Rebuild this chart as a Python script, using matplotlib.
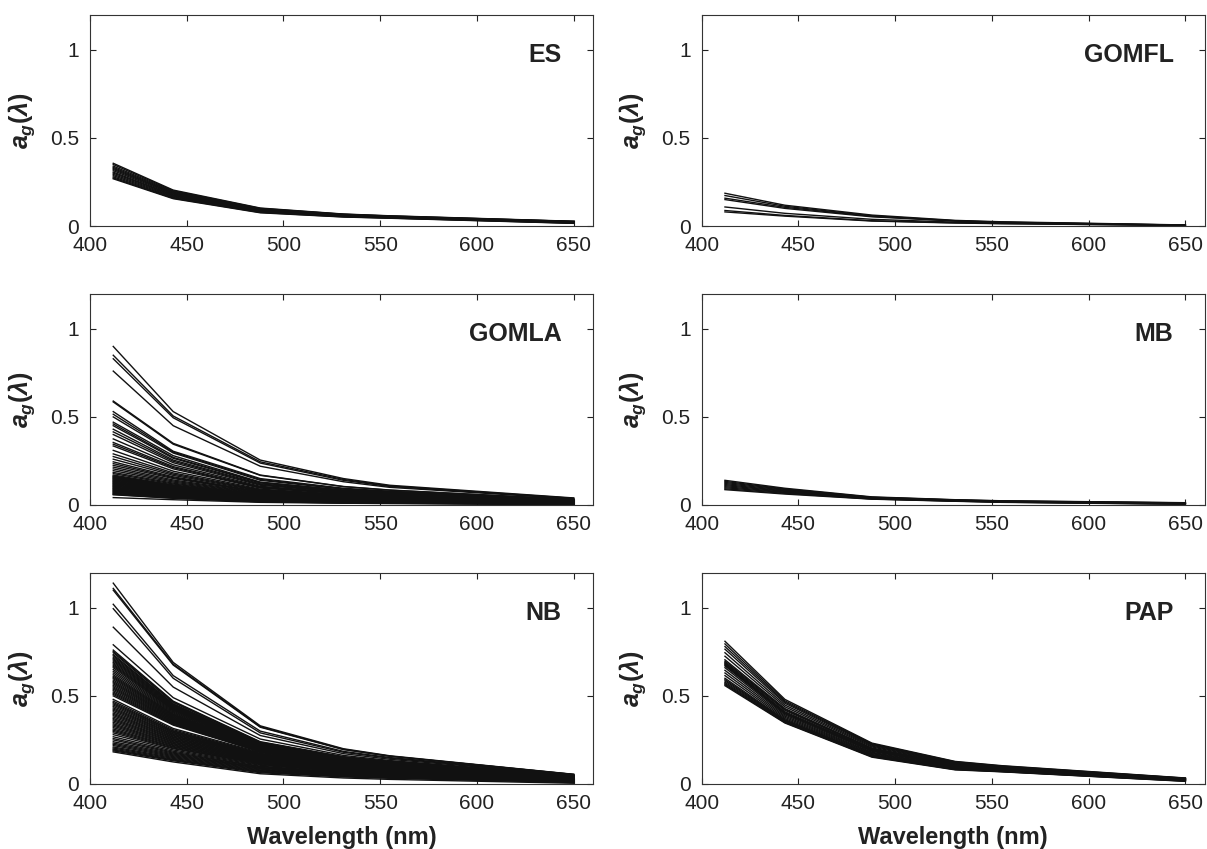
import matplotlib
matplotlib.use('Agg')
import matplotlib.pyplot as plt
from matplotlib.ticker import FixedLocator, FixedFormatter

plt.rcParams['font.family'] = ['Liberation Sans', 'DejaVu Sans']
plt.rcParams['mathtext.fontset'] = 'custom'
plt.rcParams['mathtext.rm'] = 'Liberation Sans:bold'
plt.rcParams['mathtext.it'] = 'Liberation Sans:bold:italic'
plt.rcParams['mathtext.bf'] = 'Liberation Sans:bold'

# wavelengths (nm) shared by all spectra
wavelengths = [412, 443, 488, 531, 555, 650]

# a_g spectra, one row per station
es_ag = [
    [0.356, 0.204, 0.102, 0.068, 0.058, 0.027],
    [0.349, 0.200, 0.100, 0.067, 0.057, 0.026],
    [0.340, 0.196, 0.098, 0.066, 0.056, 0.026],
    [0.333, 0.192, 0.096, 0.064, 0.054, 0.025],
    [0.327, 0.188, 0.094, 0.063, 0.053, 0.024],
    [0.321, 0.185, 0.092, 0.062, 0.052, 0.023],
    [0.314, 0.181, 0.090, 0.060, 0.051, 0.022],
    [0.306, 0.177, 0.088, 0.059, 0.050, 0.021],
    [0.300, 0.174, 0.086, 0.058, 0.049, 0.020],
    [0.293, 0.170, 0.084, 0.056, 0.048, 0.019],
    [0.286, 0.166, 0.082, 0.055, 0.047, 0.018],
    [0.279, 0.162, 0.079, 0.054, 0.046, 0.017],
    [0.273, 0.158, 0.077, 0.052, 0.045, 0.016],
    [0.268, 0.155, 0.075, 0.051, 0.044, 0.015],
]

gomfl_ag = [
    [0.186, 0.118, 0.062, 0.032, 0.024, 0.006],
    [0.173, 0.112, 0.058, 0.030, 0.022, 0.005],
    [0.158, 0.106, 0.055, 0.029, 0.021, 0.005],
    [0.150, 0.100, 0.052, 0.028, 0.020, 0.004],
    [0.108, 0.072, 0.038, 0.022, 0.017, 0.004],
    [0.088, 0.060, 0.030, 0.018, 0.014, 0.003],
    [0.080, 0.056, 0.028, 0.017, 0.013, 0.003],
]

gomla_ag = [
    [0.900, 0.530, 0.255, 0.150, 0.112, 0.040],
    [0.850, 0.505, 0.245, 0.145, 0.108, 0.038],
    [0.830, 0.495, 0.238, 0.140, 0.105, 0.037],
    [0.760, 0.450, 0.220, 0.132, 0.100, 0.035],
    [0.590, 0.350, 0.170, 0.105, 0.085, 0.032],
    [0.585, 0.345, 0.168, 0.104, 0.084, 0.031],
    [0.530, 0.305, 0.150, 0.095, 0.078, 0.030],
    [0.515, 0.300, 0.145, 0.092, 0.076, 0.029],
    [0.500, 0.295, 0.140, 0.090, 0.074, 0.028],
    [0.470, 0.280, 0.130, 0.085, 0.071, 0.027],
    [0.460, 0.270, 0.128, 0.083, 0.069, 0.026],
    [0.450, 0.265, 0.125, 0.081, 0.068, 0.026],
    [0.430, 0.255, 0.120, 0.078, 0.066, 0.025],
    [0.415, 0.248, 0.116, 0.075, 0.064, 0.025],
    [0.400, 0.240, 0.112, 0.073, 0.062, 0.024],
    [0.375, 0.228, 0.106, 0.070, 0.060, 0.023],
    [0.355, 0.218, 0.102, 0.068, 0.058, 0.023],
    [0.345, 0.212, 0.099, 0.066, 0.057, 0.022],
    [0.335, 0.205, 0.096, 0.064, 0.055, 0.022],
    [0.310, 0.192, 0.090, 0.060, 0.052, 0.021],
    [0.290, 0.182, 0.086, 0.058, 0.050, 0.020],
    [0.275, 0.175, 0.083, 0.056, 0.048, 0.020],
    [0.260, 0.168, 0.080, 0.054, 0.047, 0.019],
    [0.245, 0.160, 0.076, 0.052, 0.045, 0.019],
    [0.235, 0.155, 0.074, 0.050, 0.044, 0.018],
    [0.225, 0.150, 0.072, 0.049, 0.043, 0.018],
    [0.215, 0.142, 0.069, 0.047, 0.041, 0.017],
    [0.205, 0.136, 0.066, 0.045, 0.040, 0.017],
    [0.195, 0.130, 0.063, 0.043, 0.038, 0.016],
    [0.185, 0.124, 0.060, 0.041, 0.036, 0.016],
    [0.178, 0.119, 0.058, 0.040, 0.035, 0.015],
    [0.170, 0.114, 0.056, 0.038, 0.034, 0.015],
    [0.165, 0.111, 0.055, 0.037, 0.033, 0.015],
    [0.162, 0.108, 0.053, 0.036, 0.032, 0.014],
    [0.158, 0.106, 0.052, 0.035, 0.032, 0.014],
    [0.155, 0.103, 0.050, 0.034, 0.031, 0.014],
    [0.151, 0.101, 0.049, 0.034, 0.030, 0.013],
    [0.148, 0.098, 0.048, 0.033, 0.029, 0.013],
    [0.144, 0.096, 0.047, 0.032, 0.028, 0.013],
    [0.141, 0.094, 0.046, 0.031, 0.028, 0.013],
    [0.137, 0.091, 0.044, 0.030, 0.027, 0.012],
    [0.134, 0.089, 0.043, 0.030, 0.026, 0.012],
    [0.130, 0.086, 0.042, 0.029, 0.025, 0.012],
    [0.127, 0.084, 0.041, 0.028, 0.025, 0.012],
    [0.123, 0.082, 0.040, 0.027, 0.024, 0.011],
    [0.120, 0.080, 0.039, 0.027, 0.024, 0.011],
    [0.116, 0.077, 0.037, 0.026, 0.023, 0.011],
    [0.113, 0.075, 0.036, 0.025, 0.022, 0.010],
    [0.109, 0.072, 0.035, 0.024, 0.021, 0.010],
    [0.106, 0.070, 0.034, 0.024, 0.021, 0.010],
    [0.102, 0.068, 0.033, 0.023, 0.020, 0.009],
    [0.099, 0.066, 0.032, 0.022, 0.019, 0.009],
    [0.095, 0.063, 0.030, 0.021, 0.018, 0.008],
    [0.092, 0.061, 0.029, 0.020, 0.018, 0.008],
    [0.088, 0.058, 0.028, 0.019, 0.017, 0.007],
    [0.085, 0.056, 0.027, 0.019, 0.016, 0.007],
    [0.081, 0.054, 0.026, 0.018, 0.015, 0.006],
    [0.078, 0.052, 0.025, 0.017, 0.015, 0.006],
    [0.074, 0.049, 0.023, 0.016, 0.014, 0.005],
    [0.071, 0.047, 0.022, 0.015, 0.013, 0.005],
    [0.067, 0.044, 0.021, 0.014, 0.012, 0.004],
    [0.064, 0.042, 0.020, 0.013, 0.012, 0.004],
    [0.060, 0.039, 0.019, 0.012, 0.011, 0.003],
    [0.058, 0.038, 0.018, 0.012, 0.010, 0.003],
    [0.042, 0.030, 0.015, 0.010, 0.008, 0.002],
]

mb_ag = [
    [0.140, 0.095, 0.046, 0.030, 0.024, 0.013],
    [0.134, 0.091, 0.044, 0.029, 0.023, 0.012],
    [0.128, 0.088, 0.043, 0.028, 0.022, 0.011],
    [0.122, 0.084, 0.041, 0.027, 0.021, 0.010],
    [0.116, 0.080, 0.040, 0.026, 0.020, 0.009],
    [0.110, 0.077, 0.038, 0.025, 0.019, 0.008],
    [0.104, 0.073, 0.037, 0.024, 0.018, 0.007],
    [0.098, 0.070, 0.035, 0.023, 0.017, 0.006],
    [0.092, 0.066, 0.034, 0.022, 0.016, 0.005],
    [0.087, 0.062, 0.033, 0.021, 0.015, 0.004],
]

nb_ag = [
    [1.140, 0.690, 0.330, 0.200, 0.160, 0.055],
    [1.110, 0.680, 0.325, 0.197, 0.158, 0.054],
    [1.100, 0.675, 0.322, 0.195, 0.157, 0.054],
    [1.020, 0.615, 0.300, 0.185, 0.150, 0.052],
    [0.995, 0.600, 0.290, 0.180, 0.146, 0.051],
    [0.890, 0.550, 0.275, 0.172, 0.140, 0.050],
    [0.790, 0.490, 0.255, 0.162, 0.133, 0.048],
    [0.760, 0.470, 0.240, 0.155, 0.128, 0.047],
    [0.752, 0.466, 0.237, 0.153, 0.127, 0.047],
    [0.745, 0.462, 0.235, 0.152, 0.126, 0.046],
    [0.735, 0.455, 0.231, 0.150, 0.124, 0.046],
    [0.728, 0.452, 0.230, 0.149, 0.123, 0.046],
    [0.720, 0.448, 0.228, 0.148, 0.122, 0.045],
    [0.712, 0.444, 0.226, 0.147, 0.121, 0.045],
    [0.705, 0.440, 0.225, 0.146, 0.120, 0.045],
    [0.698, 0.436, 0.223, 0.145, 0.119, 0.044],
    [0.690, 0.432, 0.222, 0.144, 0.118, 0.044],
    [0.682, 0.428, 0.220, 0.143, 0.118, 0.044],
    [0.675, 0.425, 0.219, 0.142, 0.117, 0.044],
    [0.668, 0.421, 0.217, 0.141, 0.116, 0.043],
    [0.660, 0.418, 0.216, 0.140, 0.115, 0.043],
    [0.650, 0.413, 0.214, 0.138, 0.114, 0.043],
    [0.640, 0.408, 0.212, 0.137, 0.113, 0.042],
    [0.630, 0.403, 0.210, 0.135, 0.112, 0.042],
    [0.620, 0.398, 0.208, 0.134, 0.111, 0.041],
    [0.612, 0.394, 0.206, 0.133, 0.110, 0.041],
    [0.605, 0.390, 0.205, 0.132, 0.109, 0.041],
    [0.598, 0.386, 0.203, 0.131, 0.108, 0.040],
    [0.590, 0.382, 0.201, 0.130, 0.107, 0.040],
    [0.582, 0.378, 0.200, 0.129, 0.106, 0.040],
    [0.575, 0.374, 0.198, 0.128, 0.105, 0.040],
    [0.568, 0.370, 0.196, 0.127, 0.104, 0.039],
    [0.560, 0.366, 0.195, 0.126, 0.103, 0.039],
    [0.552, 0.362, 0.193, 0.124, 0.102, 0.039],
    [0.545, 0.358, 0.192, 0.123, 0.101, 0.038],
    [0.538, 0.354, 0.190, 0.122, 0.100, 0.038],
    [0.530, 0.350, 0.188, 0.120, 0.099, 0.038],
    [0.522, 0.346, 0.186, 0.119, 0.098, 0.037],
    [0.515, 0.342, 0.185, 0.118, 0.097, 0.037],
    [0.508, 0.338, 0.183, 0.117, 0.096, 0.037],
    [0.500, 0.334, 0.182, 0.116, 0.095, 0.037],
    [0.480, 0.315, 0.178, 0.113, 0.093, 0.036],
    [0.470, 0.308, 0.174, 0.111, 0.091, 0.035],
    [0.462, 0.302, 0.170, 0.109, 0.089, 0.035],
    [0.455, 0.299, 0.168, 0.108, 0.088, 0.034],
    [0.448, 0.294, 0.166, 0.107, 0.087, 0.034],
    [0.440, 0.290, 0.163, 0.105, 0.086, 0.034],
    [0.432, 0.285, 0.161, 0.104, 0.085, 0.033],
    [0.425, 0.281, 0.158, 0.102, 0.084, 0.033],
    [0.418, 0.276, 0.156, 0.101, 0.083, 0.033],
    [0.410, 0.272, 0.154, 0.099, 0.082, 0.032],
    [0.402, 0.267, 0.151, 0.098, 0.081, 0.032],
    [0.395, 0.263, 0.149, 0.096, 0.080, 0.031],
    [0.388, 0.258, 0.146, 0.095, 0.078, 0.031],
    [0.380, 0.254, 0.144, 0.093, 0.077, 0.031],
    [0.372, 0.249, 0.141, 0.092, 0.076, 0.030],
    [0.365, 0.245, 0.139, 0.090, 0.075, 0.030],
    [0.358, 0.240, 0.136, 0.089, 0.074, 0.030],
    [0.350, 0.236, 0.134, 0.087, 0.073, 0.029],
    [0.342, 0.231, 0.131, 0.085, 0.072, 0.029],
    [0.335, 0.227, 0.129, 0.084, 0.071, 0.028],
    [0.328, 0.222, 0.126, 0.082, 0.070, 0.028],
    [0.320, 0.218, 0.124, 0.081, 0.069, 0.027],
    [0.312, 0.213, 0.121, 0.079, 0.067, 0.027],
    [0.305, 0.209, 0.119, 0.078, 0.066, 0.026],
    [0.298, 0.204, 0.116, 0.076, 0.065, 0.026],
    [0.290, 0.200, 0.114, 0.074, 0.064, 0.025],
    [0.280, 0.193, 0.110, 0.072, 0.062, 0.025],
    [0.268, 0.186, 0.106, 0.070, 0.060, 0.024],
    [0.258, 0.180, 0.101, 0.067, 0.057, 0.022],
    [0.250, 0.175, 0.098, 0.064, 0.055, 0.021],
    [0.240, 0.170, 0.094, 0.062, 0.053, 0.020],
    [0.232, 0.165, 0.091, 0.060, 0.051, 0.019],
    [0.225, 0.160, 0.088, 0.058, 0.049, 0.018],
    [0.218, 0.155, 0.084, 0.055, 0.047, 0.017],
    [0.210, 0.150, 0.080, 0.052, 0.044, 0.015],
    [0.204, 0.145, 0.076, 0.049, 0.041, 0.013],
    [0.198, 0.140, 0.072, 0.046, 0.038, 0.012],
    [0.193, 0.136, 0.068, 0.043, 0.035, 0.010],
    [0.188, 0.132, 0.064, 0.040, 0.032, 0.008],
    [0.182, 0.125, 0.058, 0.034, 0.026, 0.004],
]

pap_ag = [
    [0.810, 0.480, 0.232, 0.128, 0.104, 0.034],
    [0.795, 0.472, 0.228, 0.126, 0.102, 0.033],
    [0.780, 0.465, 0.224, 0.124, 0.100, 0.032],
    [0.765, 0.458, 0.220, 0.121, 0.098, 0.031],
    [0.745, 0.448, 0.215, 0.118, 0.096, 0.030],
    [0.725, 0.438, 0.210, 0.115, 0.094, 0.029],
    [0.705, 0.428, 0.204, 0.112, 0.091, 0.028],
    [0.697, 0.423, 0.201, 0.110, 0.090, 0.028],
    [0.690, 0.418, 0.199, 0.109, 0.089, 0.027],
    [0.685, 0.410, 0.196, 0.107, 0.088, 0.027],
    [0.680, 0.405, 0.193, 0.106, 0.087, 0.026],
    [0.675, 0.401, 0.191, 0.105, 0.086, 0.026],
    [0.670, 0.398, 0.189, 0.104, 0.085, 0.025],
    [0.660, 0.392, 0.185, 0.101, 0.083, 0.024],
    [0.645, 0.385, 0.180, 0.098, 0.081, 0.023],
    [0.630, 0.378, 0.176, 0.095, 0.079, 0.022],
    [0.615, 0.371, 0.172, 0.092, 0.077, 0.021],
    [0.600, 0.365, 0.167, 0.089, 0.075, 0.020],
    [0.592, 0.361, 0.165, 0.088, 0.074, 0.020],
    [0.585, 0.358, 0.162, 0.086, 0.073, 0.019],
    [0.577, 0.355, 0.160, 0.085, 0.072, 0.018],
    [0.570, 0.352, 0.157, 0.083, 0.071, 0.017],
    [0.564, 0.349, 0.155, 0.082, 0.070, 0.016],
    [0.558, 0.346, 0.152, 0.080, 0.069, 0.015],
]

panel_names = ['ES', 'GOMFL', 'GOMLA', 'MB', 'NB', 'PAP']
panel_data = [es_ag, gomfl_ag, gomla_ag, mb_ag, nb_ag, pap_ag]

x_ticks = [400, 450, 500, 550, 600, 650]
y_ticks = [0, 0.5, 1]
y_tick_labels = ['0', '0.5', '1']


def draw_panel(ax, name, spectra, bottom_row):
    for spectrum in spectra:
        ax.plot(wavelengths, spectrum, color='#111111', linewidth=1.0)
    ax.set_xlim(400, 660)
    ax.set_ylim(0, 1.2)
    ax.xaxis.set_major_locator(FixedLocator(x_ticks))
    ax.yaxis.set_major_locator(FixedLocator(y_ticks))
    ax.yaxis.set_major_formatter(FixedFormatter(y_tick_labels))
    ax.tick_params(direction='in', length=4, width=0.8, labelsize=15,
                   top=True, right=True, colors='#222222')
    ax.tick_params(axis='x', pad=7)
    ax.tick_params(axis='y', pad=8)
    for spine in ax.spines.values():
        spine.set_linewidth(0.8)
        spine.set_color('#333333')
    ax.text(0.938, 0.81, name, transform=ax.transAxes, ha='right', va='center',
            fontsize=18, fontweight='bold', color='#222222')
    ax.set_ylabel(r'$a_g(\lambda)$', fontsize=18, color='#222222')
    ax.yaxis.set_label_coords(-0.106, 0.5)
    if bottom_row:
        ax.set_xlabel('Wavelength (nm)', fontsize=17, fontweight='bold', color='#222222')
        ax.xaxis.set_label_coords(0.5, -0.2)


fig = plt.figure(figsize=(12.07, 8.49), dpi=100)
col_left = [0.0746, 0.5814]
row_bottom = [0.7338, 0.4052, 0.0766]
width, height = 0.4167, 0.249

for i, (name, spectra) in enumerate(zip(panel_names, panel_data)):
    row, col = divmod(i, 2)
    ax = fig.add_axes([col_left[col], row_bottom[row], width, height])
    draw_panel(ax, name, spectra, row == 2)

fig.savefig('out.png', dpi=100)
